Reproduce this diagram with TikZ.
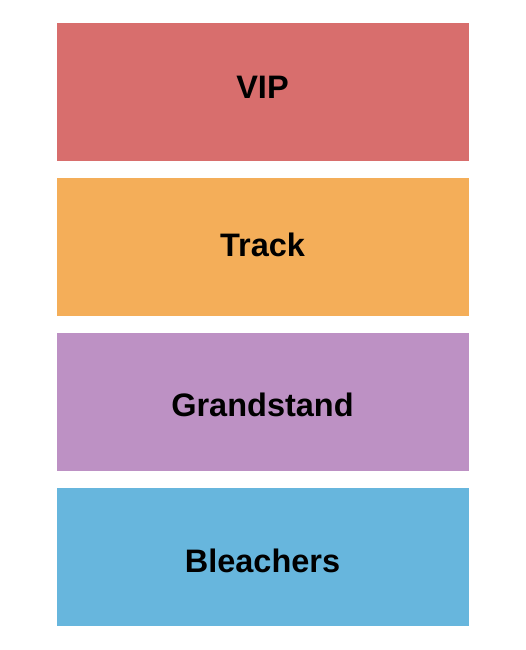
\documentclass[tikz,border=0pt]{standalone}
\usepackage{fontspec}
\setmainfont{Liberation Sans}
\definecolor{vipc}{HTML}{D86E6D}
\definecolor{trackc}{HTML}{F4AE59}
\definecolor{grandc}{HTML}{BD91C4}
\definecolor{bleachc}{HTML}{67B6DD}
\begin{document}
\begin{tikzpicture}[x=1pt,y=-1pt,
  section/.style={draw=none,minimum width=412pt,minimum height=138pt,inner sep=0pt,anchor=north west},
  lbl/.style={font=\fontsize{32.5}{38}\selectfont\bfseries,text=black,anchor=base}]
\useasboundingbox (0,0) rectangle (525,650);
\fill[white] (0,0) rectangle (525,650);
\node[section,fill=vipc] (vip) at (57,23) {};
\node[section,fill=trackc] (track) at (57,178) {};
\node[section,fill=grandc] (grand) at (57,333) {};
\node[section,fill=bleachc] (bleach) at (57,488) {};
\node[lbl] (tvip) at (262.5,98.7) {VIP};
\node[lbl] (ttrack) at (262.5,256.7) {Track};
\node[lbl] (tgrand) at (262.5,416) {Grandstand};
\node[lbl] (tbleach) at (262.5,572.7) {Bleachers};
\end{tikzpicture}
\end{document}
